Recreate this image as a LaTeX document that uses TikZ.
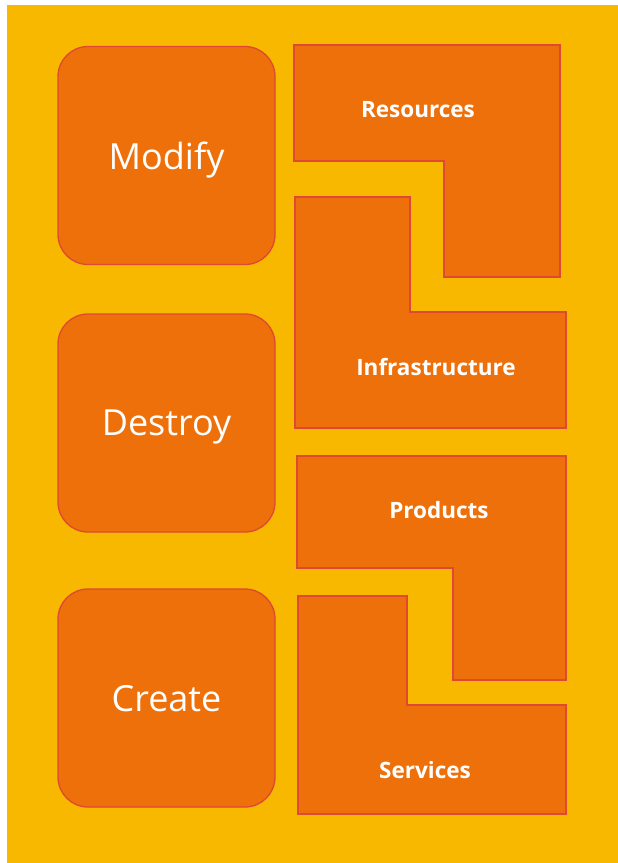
\documentclass[tikz,border=0pt]{standalone}
\usepackage{fontspec}
\setmainfont{Open Sans}
\usetikzlibrary{positioning}
\definecolor{bgyellow}{RGB}{249,184,0}
\definecolor{boxorange}{RGB}{238,112,10}
\definecolor{boxedge}{RGB}{222,72,52}

\begin{document}
\begin{tikzpicture}[x=1pt,y=-1pt,
block/.style={draw=boxedge,fill=boxorange,line width=1.3pt},
verb/.style={block,rectangle,rounded corners=30pt,minimum width=217pt,minimum height=218pt,text=white,text depth=0pt,font=\fontsize{36}{40}\selectfont},
piece/.style={text=white,font=\bfseries\fontsize{22.5}{26}\selectfont}]

% hatter
\fill[white] (0,0) rectangle (618,863);
\fill[bgyellow] (7,5) rectangle (618,863);

% bal oldali blokkok
\node[verb] (modify) at (166.5,155.5) {Modify};
\node[verb] (destroy) at (166.5,423) {Destroy};
\node[verb] (create) at (166.5,698) {Create};

% jobb oldali L alakok
\draw[block] (294,45) -- (560,45) -- (560,277) -- (444,277) -- (444,161) -- (294,161) -- cycle;
\node[piece] (resources) at (418,110) {Resources};

\draw[block] (295,197) -- (410,197) -- (410,312) -- (566,312) -- (566,428) -- (295,428) -- cycle;
\node[piece] (infra) at (436,367) {Infrastructure};

\draw[block] (297,456) -- (566,456) -- (566,680) -- (453,680) -- (453,568) -- (297,568) -- cycle;
\node[piece] (products) at (439,510) {Products};

\draw[block] (298,596) -- (407,596) -- (407,705) -- (566,705) -- (566,814) -- (298,814) -- cycle;
\node[piece] (services) at (425,770) {Services};
\end{tikzpicture}
\end{document}
